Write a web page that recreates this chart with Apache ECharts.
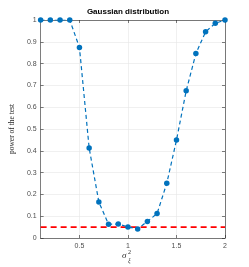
<!DOCTYPE html>
<html><head><meta charset="utf-8">
<script src="https://cdn.jsdelivr.net/npm/echarts@6/dist/echarts.min.js"></script>
<style>html,body{margin:0;padding:0;background:#fff}#c{width:249px;height:267px}</style>
</head><body><div id="c"></div>
<script>
const sigma2 = [0.1,0.2,0.3,0.4,0.5,0.6,0.7,0.8,0.9,1.0,1.1,1.2,1.3,1.4,1.5,1.6,1.7,1.8,1.9,2.0];
const power = [1,1,1,1,0.874,0.413,0.165,0.063,0.064,0.051,0.041,0.076,0.112,0.251,0.449,0.675,0.846,0.946,0.985,1.0];
const alphaLevel = 0.05;
const xTicks = [0.5,1,1.5,2];
const yTicks = [0,0.1,0.2,0.3,0.4,0.5,0.6,0.7,0.8,0.9,1];
const titleText = 'Gaussian distribution';
const yName = 'power of the test';

const chart = echarts.init(document.getElementById('c'), null, {renderer:'canvas'});
const axisCol = '#262626';
const lblStyle = {color:'#4d4d4d', fontSize:7, fontFamily:'Liberation Sans'};
const xBase = {
  type:'value', min:0.1, max:2,
  axisLine:{show:true, onZero:false, lineStyle:{color:axisCol, width:0.6}},
  axisTick:{show:true, inside:true, length:3, customValues:xTicks, lineStyle:{color:axisCol,width:0.6}},
  splitLine:{show:true, lineStyle:{color:'#e6e6e6', width:0.6}}
};
const yBase = {
  type:'value', min:0, max:1, interval:0.1,
  axisLine:{show:true, onZero:false, lineStyle:{color:axisCol, width:0.6}},
  axisTick:{show:true, inside:true, length:3, lineStyle:{color:axisCol,width:0.6}},
  splitLine:{show:true, lineStyle:{color:'#e6e6e6', width:0.6}}
};
chart.setOption({
  animation:false,
  title:{text:titleText, left:128, top:8, textAlign:'center', padding:[0,0,0,0],
    textStyle:{fontSize:8, fontWeight:'bold', color:'#000', fontFamily:'Liberation Sans'}},
  grid:{left:32, right:24, top:20, bottom:29, containLabel:false},
  xAxis:[
    Object.assign({}, xBase, {position:'bottom',
      axisLabel:Object.assign({show:true, customValues:xTicks, margin:5, formatter:v=>String(v)}, lblStyle)}),
    Object.assign({}, xBase, {position:'top', splitLine:{show:false}, axisLabel:{show:false}})
  ],
  yAxis:[
    Object.assign({}, yBase, {position:'left',
      axisLabel:Object.assign({show:true, margin:4, formatter:v=>String(Math.round(v*10)/10)}, lblStyle),
      name:yName, nameLocation:'middle', nameGap:19, nameRotate:90,
      nameTextStyle:{fontSize:7.5, color:'#262626', fontFamily:'Liberation Serif'}}),
    Object.assign({}, yBase, {position:'right', splitLine:{show:false}, axisLabel:{show:false}})
  ],
  series:[
    {type:'line', data:sigma2.map((x,i)=>[x,power[i]]), xAxisIndex:0, yAxisIndex:0,
     symbol:'circle', symbolSize:5.5,
     itemStyle:{color:'#0072BD'},
     lineStyle:{color:'#0072BD', width:1.2, type:[4,3]}, z:3},
    {type:'line', data:[[0.1,alphaLevel],[2,alphaLevel]], xAxisIndex:0, yAxisIndex:0,
     symbol:'none', lineStyle:{color:'#FF0000', width:1.8, type:[6,4]}, z:2}
  ],
  graphic:[
    {type:'text', left:122, top:251, style:{text:'σ', fontSize:9, fontStyle:'italic', fontFamily:'Liberation Serif', fill:'#262626'}},
    {type:'text', left:128, top:257, style:{text:'ξ', fontSize:6, fontStyle:'italic', fontFamily:'Liberation Serif', fill:'#262626'}},
    {type:'text', left:128, top:249, style:{text:'2', fontSize:6, fontFamily:'Liberation Serif', fill:'#262626'}}
  ]
});
</script></body></html>
